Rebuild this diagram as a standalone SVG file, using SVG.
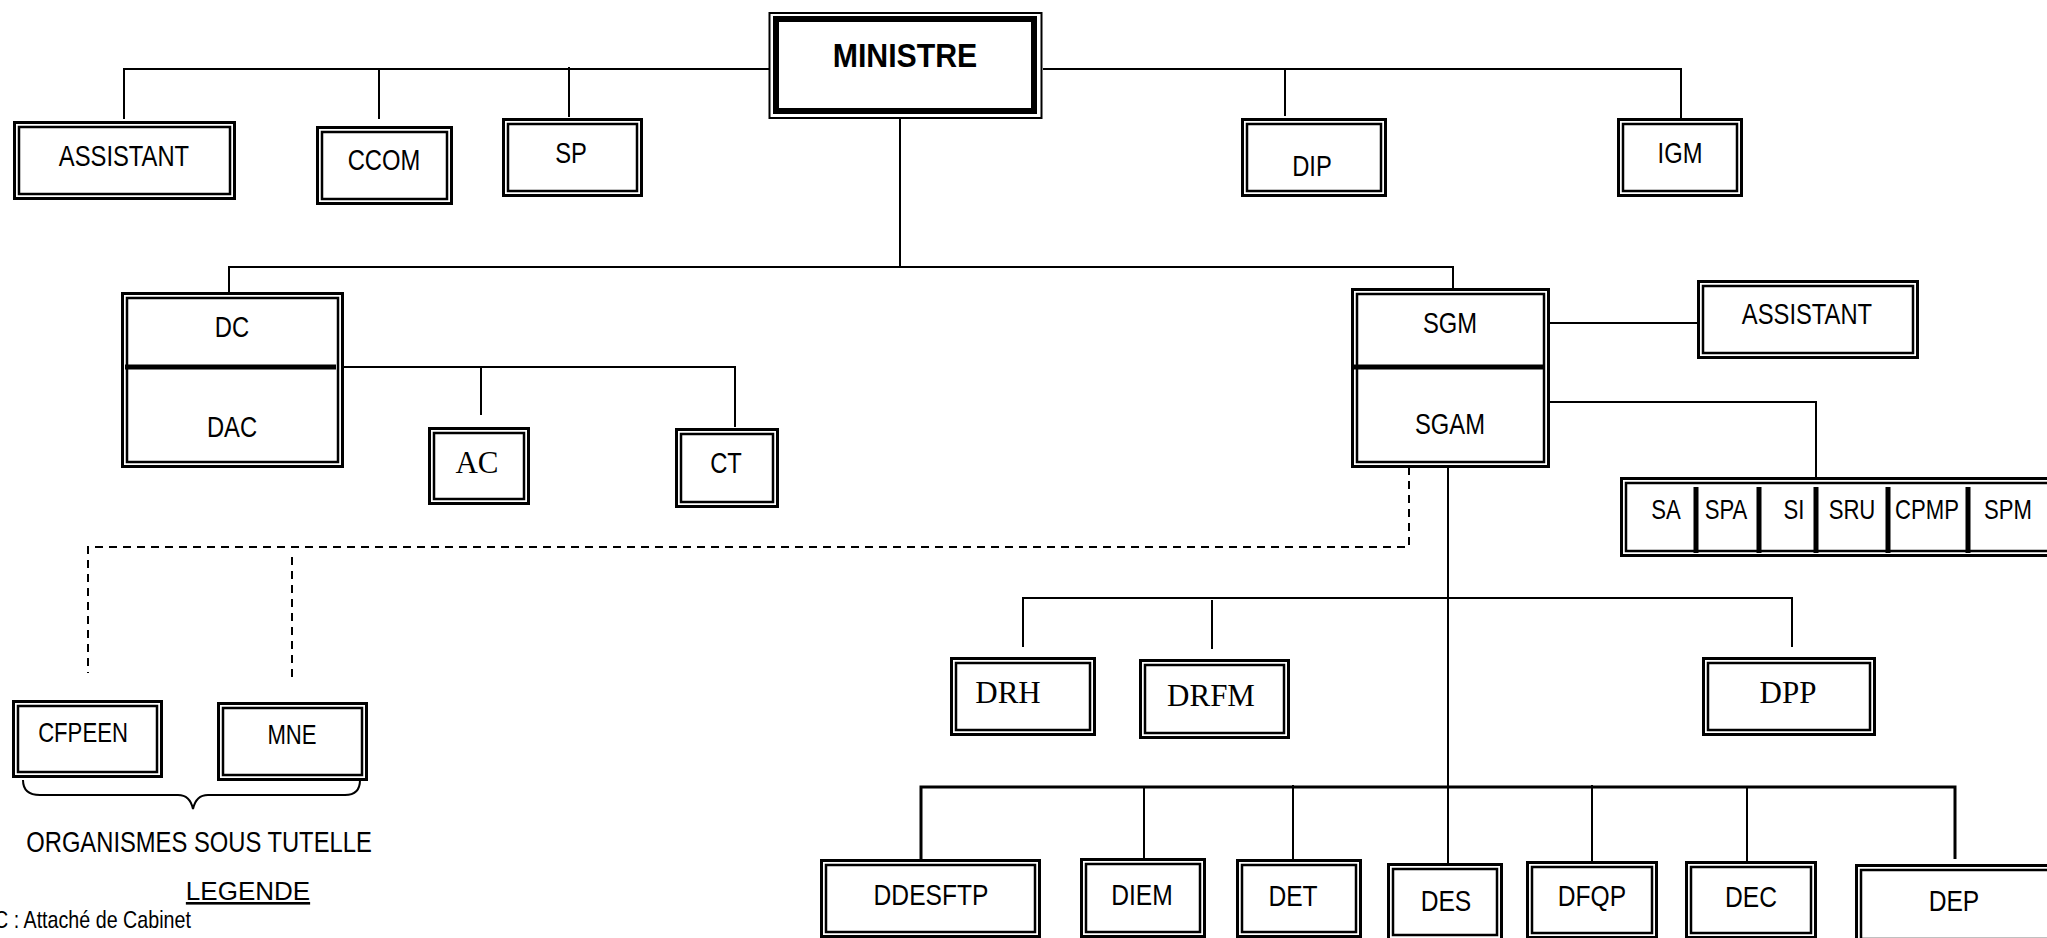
<svg xmlns="http://www.w3.org/2000/svg" width="2047" height="938" viewBox="0 0 2047 938">
<style>
.o{fill:#fff;stroke:#000;stroke-width:3}
.i{fill:none;stroke:#000;stroke-width:2.5}
.c{fill:none;stroke:#000;stroke-width:2}
.d{fill:none;stroke:#000;stroke-width:2;stroke-dasharray:8 6}
.t{font-family:"Liberation Sans Narrow","Arial Narrow","Liberation Sans",Arial,sans-serif;font-size:29px;text-anchor:middle;fill:#000;transform-box:fill-box;transform-origin:center;transform:scaleX(0.82)}
.s{font-family:"Liberation Serif","Times New Roman",serif;font-size:31px;text-anchor:middle;fill:#000}
.b{font-size:30px}
.r{font-size:27px}
</style>
<rect width="2047" height="938" fill="#fff"/>
<g id="connectors">
<path class="c" d="M124 119V69H770M1043 69H1681V118M379 69V119M569 67V117M1285 69V116"/>
<path class="c" d="M900 119V267M229 292V267H1453V288"/>
<path class="c" d="M344 367H735V427M481 367V415"/>
<path class="c" d="M1550 323H1697M1550 402H1816V477"/>
<path class="c" d="M1448 453V863M1023 647V598H1792V647M1212 600V649"/>
<path fill="none" stroke="#000" stroke-width="3" d="M921 862V787H1955V859"/>
<path class="c" d="M1144 787V858M1293 785V859M1592 785V861M1747 787V861"/>
<path class="d" d="M1409 453V547H88V673M292 557V677"/>
<path class="c" d="M23 780Q23 795 40 795H178Q190 795 193 809Q196 795 208 795H345Q360 795 360 780"/>
</g>
<g id="ministre">
<rect x="769.5" y="13" width="272" height="105" fill="#fff" stroke="#000" stroke-width="2"/>
<rect x="776" y="19" width="258" height="92" fill="none" stroke="#000" stroke-width="6"/>
<text class="t" x="905" y="67" style="font-weight:bold;font-size:34px;transform:scaleX(0.89)">MINISTRE</text>
</g>
<g id="assistant1"><rect class="o" x="14.5" y="122.5" width="220" height="76"/><rect class="i" x="19" y="127" width="211" height="67"/><text class="t" x="124" y="166">ASSISTANT</text></g>
<g id="ccom"><rect class="o" x="317.5" y="127.5" width="134" height="76"/><rect class="i" x="322" y="132" width="125" height="67"/><text class="t" x="384" y="170">CCOM</text></g>
<g id="sp"><rect class="o" x="503.5" y="119.5" width="138" height="76"/><rect class="i" x="508" y="124" width="129" height="67"/><text class="t" x="571" y="163">SP</text></g>
<g id="dip"><rect class="o" x="1242.5" y="119.5" width="143" height="76"/><rect class="i" x="1247" y="124" width="134" height="67"/><text class="t" x="1312" y="176">DIP</text></g>
<g id="igm"><rect class="o" x="1618.5" y="119.5" width="123" height="76"/><rect class="i" x="1623" y="124" width="114" height="67"/><text class="t" x="1680" y="163">IGM</text></g>
<g id="dc-dac"><rect class="o" x="122.5" y="293.5" width="220" height="173"/><rect class="i" x="127" y="298" width="211" height="164"/><path d="M125 367H336" stroke="#000" stroke-width="5"/><text class="t" x="232" y="337">DC</text><text class="t" x="232" y="437">DAC</text></g>
<g id="ac"><rect class="o" x="429.5" y="428.5" width="99" height="75"/><rect class="i" x="434" y="433" width="90" height="66"/><text class="s" x="477" y="473">AC</text></g>
<g id="ct"><rect class="o" x="676.5" y="429.5" width="101" height="77"/><rect class="i" x="681" y="434" width="92" height="68"/><text class="t" x="726" y="473">CT</text></g>
<g id="sgm-sgam"><rect class="o" x="1352.5" y="289.5" width="196" height="177"/><rect class="i" x="1357" y="294" width="187" height="168"/><path d="M1353 367H1545" stroke="#000" stroke-width="5"/><text class="t" x="1450" y="333">SGM</text><text class="t" x="1450" y="434">SGAM</text></g>
<g id="assistant2"><rect class="o" x="1698.5" y="281.5" width="219" height="76"/><rect class="i" x="1703" y="286" width="210" height="67"/><text class="t" x="1807" y="324">ASSISTANT</text></g>
<g id="services">
<rect class="o" x="1621.5" y="478.5" width="432" height="77"/><rect class="i" x="1626" y="483" width="423" height="68"/>
<path d="M1696 487V553M1759 487V553M1816 487V553M1888 487V553M1968 487V553" stroke="#000" stroke-width="5"/>
<text class="t r" x="1666" y="519">SA</text><text class="t r" x="1726" y="519">SPA</text><text class="t r" x="1794" y="519">SI</text><text class="t r" x="1852" y="519">SRU</text><text class="t r" x="1927" y="519">CPMP</text><text class="t r" x="2008" y="519">SPM</text>
</g>
<g id="cfpeen"><rect class="o" x="13.5" y="701.5" width="148" height="75"/><rect class="i" x="18" y="706" width="139" height="66"/><text class="t r" x="83" y="742">CFPEEN</text></g>
<g id="mne"><rect class="o" x="218.5" y="703.5" width="148" height="76"/><rect class="i" x="223" y="708" width="139" height="67"/><text class="t r" x="292" y="744">MNE</text></g>
<g id="drh"><rect class="o" x="951.5" y="658.5" width="143" height="76"/><rect class="i" x="956" y="663" width="134" height="67"/><text class="s" x="1008" y="703">DRH</text></g>
<g id="drfm"><rect class="o" x="1140.5" y="660.5" width="148" height="77"/><rect class="i" x="1145" y="665" width="139" height="68"/><text class="s" x="1211" y="706">DRFM</text></g>
<g id="dpp"><rect class="o" x="1703.5" y="658.5" width="171" height="76"/><rect class="i" x="1708" y="663" width="162" height="67"/><text class="s" x="1788" y="703">DPP</text></g>
<g id="ddesftp"><rect class="o" x="821.5" y="860.5" width="218" height="76"/><rect class="i" x="826" y="865" width="209" height="67"/><text class="t b" x="931" y="905">DDESFTP</text></g>
<g id="diem"><rect class="o" x="1081.5" y="859.5" width="123" height="77"/><rect class="i" x="1086" y="864" width="114" height="68"/><text class="t b" x="1142" y="905">DIEM</text></g>
<g id="det"><rect class="o" x="1237.5" y="860.5" width="123" height="76"/><rect class="i" x="1242" y="865" width="114" height="67"/><text class="t b" x="1293" y="906">DET</text></g>
<g id="des"><rect class="o" x="1388.5" y="864.5" width="113" height="75"/><rect class="i" x="1393" y="869" width="104" height="66"/><text class="t b" x="1446" y="911">DES</text></g>
<g id="dfqp"><rect class="o" x="1527.5" y="862.5" width="129" height="75"/><rect class="i" x="1532" y="867" width="120" height="66"/><text class="t b" x="1592" y="906">DFQP</text></g>
<g id="dec"><rect class="o" x="1686.5" y="862.5" width="129" height="75"/><rect class="i" x="1691" y="867" width="120" height="66"/><text class="t b" x="1751" y="907">DEC</text></g>
<g id="dep"><rect class="o" x="1856.5" y="865.5" width="202" height="78"/><rect class="i" x="1861" y="870" width="193" height="69"/><text class="t b" x="1954" y="911">DEP</text></g>
<g id="legend">
<text class="t" x="199" y="852">ORGANISMES SOUS TUTELLE</text>
<text x="248" y="900" style="font-family:'Liberation Sans',Arial,sans-serif;font-size:26px;text-anchor:middle;text-decoration:underline">LEGENDE</text>
<text x="0" y="0" transform="translate(-6 928) scale(0.82 1)" style="font-family:'Liberation Sans',Arial,sans-serif;font-size:24px">C : Attaché de Cabinet</text>
</g>
</svg>
